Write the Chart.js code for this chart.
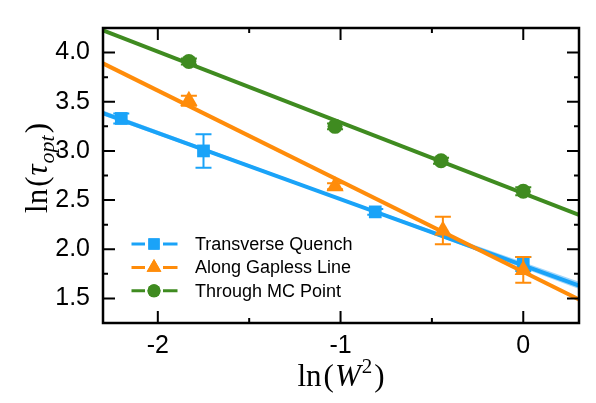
<!DOCTYPE html>
<html><head><meta charset="utf-8">
<script src="https://cdn.jsdelivr.net/npm/chart.js@4.4.0/dist/chart.umd.min.js"></script>
<style>html,body{margin:0;padding:0;background:#fff;} canvas{display:block}</style>
</head><body>
<canvas id="c" width="596" height="403" style="width:596px;height:403px"></canvas>
<script>
// ---- data ----
const seriesNames = ['Transverse Quench', 'Along Gapless Line', 'Through MC Point'];
const xTransverse = [-2.20, -1.75, -0.81, 0.0];
const yTransverse = [3.33, 3.00, 2.38, 1.85];
const errTransverse = [0.05, 0.17, 0.03, 0.07];
const xGapless = [-1.83, -1.03, -0.44, 0.0];
const yGapless = [3.51, 2.64, 2.19, 1.79];
const errGapless = [0.05, 0.03, 0.14, 0.13];
const xMC = [-1.83, -1.03, -0.45, 0.0];
const yMC = [3.91, 3.25, 2.90, 2.59];
const errMC = [0.03, 0.03, 0.03, 0.04];
// fitted lines (end points)
const fitX = [-2.3, 0.305];
const fitTransverse = [3.385, 1.63];
const fitGapless = [3.89, 1.49];
const fitMC = [4.225, 2.35];
// confidence band around the transverse fit
const bandX = [-2.3, -1.0, 0.305];
const bandUpper = [3.41, 2.52, 1.67];
const bandLower = [3.36, 2.50, 1.595];
// ticks
const xTicks = [-2, -1, 0];
const xMinorTicks = [-1.5, -0.5];
const yTicks = [1.5, 2.0, 2.5, 3.0, 3.5, 4.0];
const yMinorTicks = [1.75, 2.25, 2.75, 3.25, 3.75];

const BLUE = '#1AA3F8', ORANGE = '#FF8C0A', GREEN = '#3F8B20', BAND = 'rgba(130,200,250,0.75)';
const pts = (xs, ys) => xs.map((x, i) => ({x, y: ys[i]}));

const errorBars = {
  id: 'errorBars',
  beforeDatasetDraw(chart, args) {
    const ds = chart.data.datasets[args.index];
    if (!ds.errors) return;
    const {ctx, scales: {x, y}} = chart;
    ctx.save();
    ctx.strokeStyle = ds.backgroundColor; ctx.lineWidth = 2;
    ds.data.forEach((p, i) => {
      const e = ds.errors[i];
      const px = x.getPixelForValue(p.x);
      const y1 = y.getPixelForValue(p.y + e), y2 = y.getPixelForValue(p.y - e);
      ctx.beginPath();
      ctx.moveTo(px, y1); ctx.lineTo(px, y2);
      ctx.moveTo(px - 8, y1); ctx.lineTo(px + 8, y1);
      ctx.moveTo(px - 8, y2); ctx.lineTo(px + 8, y2);
      ctx.stroke();
    });
    ctx.restore();
  }
};

function drawRich(ctx, segs, cx, by) {
  let w = 0;
  segs.forEach(s => { ctx.font = s.font; w += ctx.measureText(s.t).width + (s.sp || 0); });
  let x = cx - w / 2;
  ctx.textBaseline = 'alphabetic'; ctx.textAlign = 'left';
  segs.forEach(s => { ctx.font = s.font; ctx.fillText(s.t, x, by + (s.dy || 0)); x += ctx.measureText(s.t).width + (s.sp || 0); });
}

const frame = {
  id: 'frame',
  afterDraw(chart) {
    const {ctx, chartArea: a, scales: {x, y}} = chart;
    ctx.save();
    ctx.strokeStyle = '#000'; ctx.lineWidth = 2.5;
    ctx.strokeRect(a.left, a.top, a.right - a.left, a.bottom - a.top);
    ctx.lineWidth = 2;
    const tick = (vals, len, axis) => vals.forEach(v => {
      ctx.beginPath();
      if (axis === 'x') {
        const p = x.getPixelForValue(v);
        ctx.moveTo(p, a.bottom); ctx.lineTo(p, a.bottom - len);
        ctx.moveTo(p, a.top); ctx.lineTo(p, a.top + len);
      } else {
        const p = y.getPixelForValue(v);
        ctx.moveTo(a.left, p); ctx.lineTo(a.left + len, p);
        ctx.moveTo(a.right, p); ctx.lineTo(a.right - len, p);
      }
      ctx.stroke();
    });
    tick(xTicks, 12, 'x'); tick(xMinorTicks, 5, 'x');
    tick(yTicks, 12, 'y'); tick(yMinorTicks, 5, 'y');

    // axis titles
    ctx.fillStyle = '#000';
    const R = '31px "Liberation Serif"', I = 'italic 31px "Liberation Serif"';
    drawRich(ctx, [
      {t: 'ln', font: R, sp: 2}, {t: '(', font: R, sp: 1}, {t: 'W', font: I, sp: 1},
      {t: '2', font: '21px "Liberation Serif"', dy: -13, sp: 2}, {t: ')', font: R}
    ], (a.left + a.right) / 2, 386);
    ctx.save();
    ctx.translate(47, 168); ctx.rotate(-Math.PI / 2);
    drawRich(ctx, [
      {t: 'ln', font: R, sp: 2}, {t: '(', font: R, sp: 1}, {t: 'τ', font: I, sp: 1},
      {t: 'opt', font: 'italic 22px "Liberation Serif"', dy: 7, sp: 2}, {t: ')', font: R}
    ], 0, 0);
    ctx.restore();

    // legend
    const rows = [
      {c: BLUE, s: 'rect', r: 8},
      {c: ORANGE, s: 'triangle', r: 8.5},
      {c: GREEN, s: 'circle', r: 6.5}
    ];
    rows.forEach((row, i) => {
      const cy = 244 + i * 23.4;
      ctx.strokeStyle = row.c; ctx.lineWidth = 3;
      ctx.beginPath();
      ctx.moveTo(131.5, cy); ctx.lineTo(145, cy);
      ctx.moveTo(163, cy); ctx.lineTo(177.5, cy);
      ctx.stroke();
      ctx.fillStyle = row.c;
      Chart.helpers.drawPoint(ctx, {pointStyle: row.s, radius: row.r, borderWidth: 0, rotation: 0}, 154, cy);
      ctx.fill();
      ctx.fillStyle = '#000';
      ctx.font = '18px "Liberation Sans"';
      ctx.textBaseline = 'middle'; ctx.textAlign = 'left';
      ctx.fillText(seriesNames[i], 195, cy + 1);
    });
    ctx.restore();
  }
};

const lineDs = (xs, ys, color, order, extra) => Object.assign({
  type: 'line', data: pts(xs, ys), borderColor: color, borderWidth: 4,
  pointRadius: 0, fill: false, tension: 0, order
}, extra || {});
const pointDs = (xs, ys, errs, color, style, r, order, label) => ({
  type: 'scatter', label, data: pts(xs, ys), errors: errs, backgroundColor: color,
  borderWidth: 0, pointStyle: style, pointRadius: r, pointHoverRadius: r, order
});

new Chart(document.getElementById('c'), {
  type: 'scatter',
  data: {
    datasets: [
      lineDs(bandX, bandLower, 'rgba(0,0,0,0)', 20, {borderWidth: 0}),
      lineDs(bandX, bandUpper, 'rgba(0,0,0,0)', 19, {borderWidth: 0, fill: '-1', backgroundColor: BAND}),
      lineDs(fitX, fitTransverse, BLUE, 18),
      pointDs(xTransverse, yTransverse, errTransverse, BLUE, 'rect', 9, 17, seriesNames[0]),
      lineDs(fitX, fitGapless, ORANGE, 16),
      pointDs(xGapless, yGapless, errGapless, ORANGE, 'triangle', 10, 15, seriesNames[1]),
      lineDs(fitX, fitMC, GREEN, 14),
      pointDs(xMC, yMC, errMC, GREEN, 'circle', 7.5, 13, seriesNames[2])
    ]
  },
  options: {
    responsive: false, animation: false,
    layout: {padding: {top: 3, right: 17, left: 0, bottom: 0}},
    plugins: {legend: {display: false}, tooltip: {enabled: false}},
    scales: {
      x: {
        type: 'linear', min: -2.3, max: 0.305,
        grid: {display: false, drawTicks: false}, border: {display: false},
        afterBuildTicks: s => { s.ticks = xTicks.map(v => ({value: v})); },
        afterFit: s => { s.height = 80; },
        ticks: {color: '#000', padding: 8, font: {family: '"Liberation Sans"', size: 25},
                callback: v => String(v)}
      },
      y: {
        type: 'linear', min: 1.25, max: 4.25,
        grid: {display: false, drawTicks: false}, border: {display: false},
        afterBuildTicks: s => { s.ticks = yTicks.map(v => ({value: v})); },
        afterFit: s => { s.width = 103; },
        ticks: {color: '#000', padding: 13, font: {family: '"Liberation Sans"', size: 25},
                callback: v => v.toFixed(1)}
      }
    }
  },
  plugins: [errorBars, frame]
});
</script></body></html>
